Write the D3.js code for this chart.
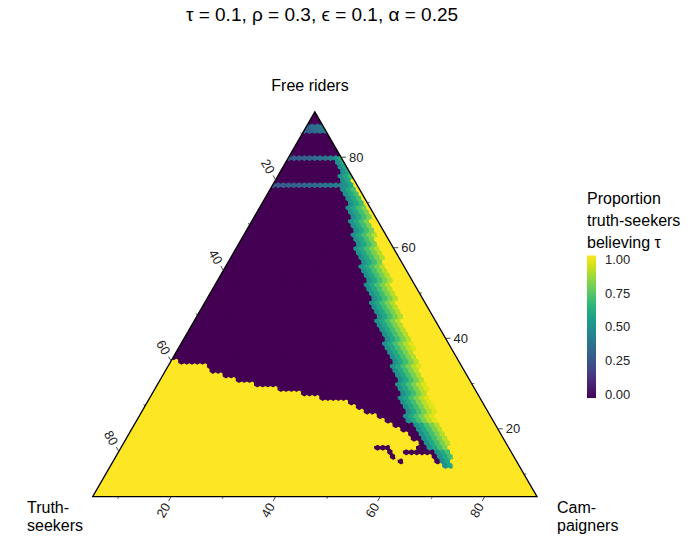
<!DOCTYPE html>
<html><head><meta charset="utf-8">
<script src="https://cdn.jsdelivr.net/npm/d3@7"></script>
<style>body{margin:0;background:#fff} text{font-family:"Liberation Sans", Arial, Helvetica, sans-serif}</style>
</head><body><svg id="c" width="688" height="539"></svg>
<script>
// ---------------- data ----------------
const titleText = "τ = 0.1, ρ = 0.3, ϵ = 0.1, α = 0.25";
const axisLimits = [5, 90];               // each ternary component shown from 5 % to 90 %
const axisMajor = [20, 40, 60, 80];
const axisMinor = [10, 30, 50, 70];
const legendTitle = ["Proportion", "truth-seekers", "believing τ"];
const legendTicks = [0, 0.25, 0.5, 0.75, 1];

// lower-left yellow region: its top edge, free riders (F) as a function of campaigners (C)
const yellowLowC = [5, 12.3, 13.4, 16.5, 19.7, 22.5, 24.7, 33.1, 37.5, 43.8, 45.0, 46.5, 49.4, 52.1, 54.6, 57.0, 58.9, 61.3, 67.0, 70];
const yellowLowF = [35.2, 34.1, 33.0, 31.9, 30.8, 30.1, 29.7, 28.1, 27.0, 25.9, 25.3, 24.2, 23.5, 22.6, 20.8, 19.7, 18.6, 16.8, 13.1, 11.5];
// transition band: left edge (end of purple) and right edge (start of yellow), C as a function of F
const bandLeftF = [11.5, 13.1, 17.6, 22.0, 26.4, 31.9, 37.4, 42.5, 45.6, 50.6, 55.7, 60.2, 63.9, 67.6, 71.2, 74.2, 76.4, 79.5];
const bandLeftC = [69.0, 67.0, 62.3, 56.8, 53.1, 49.4, 45.3, 40.8, 38.7, 34.9, 31.2, 27.6, 25.4, 22.9, 20.2, 18.2, 16.7, 14.5];
const bandRightF = [11.5, 12.1, 17.6, 26.4, 37.4, 42.5, 50.6, 60.2, 67.6, 71.2, 74.2, 76.4, 79.5];
const bandRightC = [70.8, 70.6, 66.6, 59.0, 50.6, 45.9, 40.0, 32.4, 26.6, 23.2, 20.2, 19.5, 16.5];
const bandValues = [0.5, 0.6, 0.7, 0.8, 0.89, 0.95];
// rows (F) with bluish stripes inside the purple region; values per cell from C = 5
const stripeRows = [87, 86, 80, 74];
const stripeValues = [
  [0.31, 0.34, 0.37, 0.40],
  [0.30, 0.32, 0.35, 0.38, 0.41],
  [0.28, 0.29, 0.30, 0.31, 0.33, 0.35, 0.37, 0.39, 0.42, 0.50, 0.62],
  [0.27, 0.28, 0.29, 0.30, 0.31, 0.32, 0.33, 0.34, 0.35, 0.36, 0.38, 0.40, 0.42, 0.45]
];
// isolated purple cells inside the yellow area [C, F]
const blobCells = [[54,16],[55,16],[56,16],[57,15],[58,14],[60,13],[60,15],[61,15],[62,15],[63,15],[64,15],[62,16],[63,16],[67,13]];

// ---------------- layout ----------------
const svg = d3.select("#c");
const X0 = 92.7, YB = 496.7, W = 444.3;
const side = d3.scaleLinear().domain(axisLimits).range([0, W]);
const H = Math.sqrt(3) / 2;
function proj(C, F) { return [X0 + side(C) + side(F) / 2, YB - side(F) * H]; }
const color = d3.scaleSequential(d3.interpolateViridis).domain([0, 1]);

const yellowLow = d3.scaleLinear().domain(yellowLowC).range(yellowLowF).clamp(true);
const bandLeft = d3.scaleLinear().domain(bandLeftF).range(bandLeftC);
const bandRight = d3.scaleLinear().domain(bandRightF).range(bandRightC);
const blobSet = new Set(blobCells.map(d => d[0] + "," + d[1]));
const stripeMap = new Map(stripeRows.map((r, i) => [r, stripeValues[i]]));

function cellValue(C, F) {
  if (blobSet.has(C + "," + F)) return 0;
  const inBand = F >= bandLeftF[0] && F <= bandLeftF[bandLeftF.length - 1];
  const bl = inBand ? bandLeft(F) : Infinity;
  const br = inBand ? bandRight(F) : Infinity;
  if (C < bl) {
    if (F < yellowLow(C)) return 1;
    if (stripeMap.has(F)) { const s = stripeMap.get(F); const i = C - 5; if (i < s.length) return s[i]; }
    return 0;
  }
  if (C < br) { const i = Math.floor(C - bl); return bandValues[Math.min(i, bandValues.length - 1)]; }
  return 1;
}

const cells = [];
for (let F = axisLimits[0]; F <= axisLimits[1]; F++) {
  for (let C = axisLimits[0]; C <= 100 - F - axisLimits[0]; C++) {
    cells.push({C, F, v: cellValue(C, F)});
  }
}
const pTop = proj(5, 90), pL = proj(5, 5), pR = proj(90, 5);
svg.append("clipPath").attr("id", "tri").append("path")
  .attr("d", `M${pL}L${pR}L${pTop}Z`);

const step = side(6) - side(5);
const r = step / Math.sqrt(3) * 1.03;
const hexPts = d3.range(6).map(k => { const a = Math.PI / 180 * (60 * k - 90); return [r * Math.cos(a), r * Math.sin(a)]; });
const hexD = "M" + hexPts.map(p => p[0].toFixed(3) + "," + p[1].toFixed(3)).join("L") + "Z";

svg.append("g").attr("clip-path", "url(#tri)")
  .selectAll("path").data(cells).join("path")
  .attr("d", hexD)
  .attr("transform", d => { const p = proj(d.C, d.F); return `translate(${p[0]},${p[1]})`; })
  .attr("fill", d => color(d.v))
  .attr("stroke", d => color(d.v))
  .attr("stroke-width", 1.4)
  .attr("stroke-linejoin", "round");

svg.append("path").attr("d", `M${pL}L${pR}L${pTop}Z`)
  .attr("fill", "none").attr("stroke", "#000").attr("stroke-width", 1.3).attr("stroke-linejoin", "miter");

// ---------------- axes ----------------
const axes = [
  {name: "C", pt: v => proj(v, 5), dir: [-0.5, H], rot: -60, anchor: "middle", lab: 15.5},
  {name: "T", pt: v => proj(5, 95 - v), dir: [-0.5, -H], rot: 60, anchor: "middle", lab: 15.5},
  {name: "F", pt: v => proj(95 - v, v), dir: [1, 0], rot: 0, anchor: "start", lab: 8}
];
const gAx = svg.append("g");
axes.forEach(ax => {
  axisMinor.forEach(v => {
    const p = ax.pt(v);
    gAx.append("line").attr("x1", p[0]).attr("y1", p[1])
      .attr("x2", p[0] + ax.dir[0] * 2.5).attr("y2", p[1] + ax.dir[1] * 2.5)
      .attr("stroke", "#333").attr("stroke-width", 0.8);
  });
  axisMajor.forEach(v => {
    const p = ax.pt(v);
    gAx.append("line").attr("x1", p[0]).attr("y1", p[1])
      .attr("x2", p[0] + ax.dir[0] * 5).attr("y2", p[1] + ax.dir[1] * 5)
      .attr("stroke", "#333").attr("stroke-width", 0.9);
    const lx = p[0] + ax.dir[0] * ax.lab, ly = p[1] + ax.dir[1] * ax.lab;
    gAx.append("text").attr("transform", `translate(${lx},${ly}) rotate(${ax.rot})`)
      .attr("text-anchor", ax.anchor).attr("dominant-baseline", "central")
      .attr("font-size", 13).attr("fill", "#222").text(v);
  });
});

// vertex labels
svg.append("text").attr("x", 310).attr("y", 91).attr("text-anchor", "middle")
  .attr("font-size", 16).attr("fill", "#000").text("Free riders");
const tl = svg.append("text").attr("font-size", 16).attr("fill", "#000");
tl.append("tspan").attr("x", 27).attr("y", 513).text("Truth-");
tl.append("tspan").attr("x", 27).attr("y", 531).text("seekers");
const cl = svg.append("text").attr("font-size", 16).attr("fill", "#000");
cl.append("tspan").attr("x", 557).attr("y", 513).text("Cam-");
cl.append("tspan").attr("x", 557).attr("y", 531).text("paigners");

// title
svg.append("text").attr("x", 322).attr("y", 21).attr("text-anchor", "middle")
  .attr("font-size", 19).attr("fill", "#000").text(titleText);

// ---------------- legend ----------------
const lg = svg.append("g");
legendTitle.forEach((t, i) => lg.append("text").attr("x", 587).attr("y", 204 + i * 22)
  .attr("font-size", 16).attr("fill", "#000").text(t));
const grad = svg.append("defs").append("linearGradient").attr("id", "vg")
  .attr("x1", 0).attr("y1", 1).attr("x2", 0).attr("y2", 0);
d3.range(0, 1.0001, 0.05).forEach(t => grad.append("stop").attr("offset", t).attr("stop-color", color(t)));
const ly = d3.scaleLinear().domain([0, 1]).range([394, 259.5]);
lg.append("rect").attr("x", 587).attr("y", ly(1.03)).attr("width", 9).attr("height", ly(-0.03) - ly(1.03)).attr("fill", "url(#vg)");
legendTicks.forEach(v => lg.append("text").attr("x", 605).attr("y", ly(v))
  .attr("dominant-baseline", "central").attr("font-size", 13).attr("fill", "#222").text(v.toFixed(2)));
</script></body></html>
